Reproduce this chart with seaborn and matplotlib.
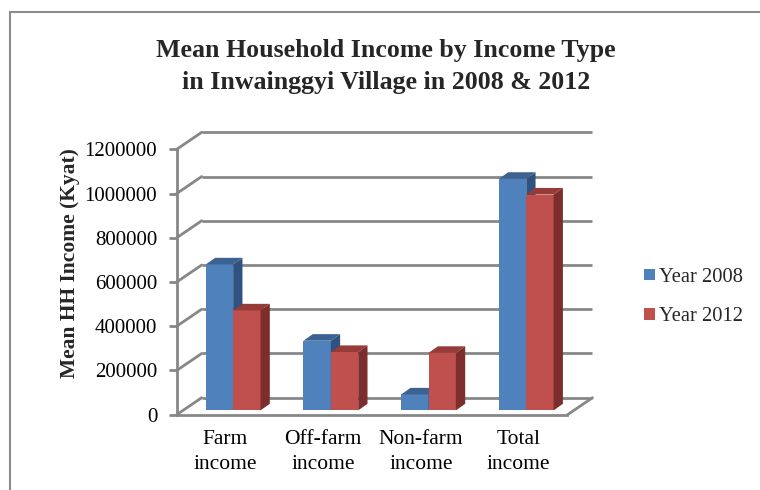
import matplotlib
matplotlib.use("Agg")
import matplotlib.pyplot as plt
from matplotlib.patches import Polygon, Rectangle
from matplotlib.lines import Line2D
import seaborn as sns
import pandas as pd

# ---- data -------------------------------------------------------------
categories = ["Farm\nincome", "Off-farm\nincome", "Non-farm\nincome", "Total\nincome"]
series_names = ["Year 2008", "Year 2012"]
income_2008 = [660000, 315000, 72000, 1047000]
income_2012 = [452000, 264000, 260000, 976000]
y_ticks = [0, 200000, 400000, 600000, 800000, 1000000, 1200000]

# ---- style --------------------------------------------------------------
sns.set_theme(style="white")
plt.rcParams["font.family"] = ["Liberation Serif", "DejaVu Serif"]

front_colors = ["#4F81BD", "#C0504D"]
top_colors = ["#3B6290", "#973B39"]
side_colors = ["#30527F", "#7C2E2C"]
grid_color = "#878787"

df = pd.DataFrame({
    "category": categories * 2,
    "series": [series_names[0]] * 4 + [series_names[1]] * 4,
    "income": income_2008 + income_2012,
})

W, H, DPI = 760, 490, 100
fig = plt.figure(figsize=(W / DPI, H / DPI), dpi=DPI)
fig.patch.set_facecolor("white")

# front plane of the 3-D box (pixel geometry)
ax_left, ax_right, ax_bottom, ax_top = 176.7, 567.5, 414.7, 149.3
ax = fig.add_axes([ax_left / W, 1 - ax_bottom / H,
                   (ax_right - ax_left) / W, (ax_bottom - ax_top) / H])
ax.patch.set_alpha(0)

sns.barplot(data=df, x="category", y="income", hue="series",
            hue_order=series_names, order=categories,
            palette=front_colors, saturation=1, width=0.56,
            errorbar=None, ax=ax, zorder=3, linewidth=0)
ax.get_legend().remove()

ymax = 1200000
ax.set_xlim(-0.5, 3.5)
ax.set_ylim(0, ymax)

# pixel -> data unit helpers
px_x = 4.0 / (ax_right - ax_left)
px_y = ymax / (ax_bottom - ax_top)

# depth of the back wall and placement/depth of the columns
wall_dx, wall_dy = 25 * px_x, 17 * px_y
bar_dx, bar_dy = 7.6 * px_x, 4.3 * px_y
col_dx, col_dy = 9.3 * px_x, 6.6 * px_y

# back wall gridlines and left-wall diagonals
for v in y_ticks:
    ax.add_line(Line2D([-0.5 + wall_dx, 3.5 + wall_dx], [v + wall_dy, v + wall_dy],
                       color=grid_color, lw=2, zorder=1, clip_on=False,
                       solid_capstyle="butt"))
    ax.add_line(Line2D([-0.5, -0.5 + wall_dx], [v, v + wall_dy],
                       color=grid_color, lw=2, zorder=1, clip_on=False))
# floor right edge
ax.add_line(Line2D([3.5, 3.5 + wall_dx], [0, wall_dy],
                   color=grid_color, lw=2, zorder=1, clip_on=False))

# columns: shift into depth and add top / side faces
for s, container in enumerate(ax.containers):
    for bar in container:
        x0 = bar.get_x() + bar_dx
        w = bar.get_width()
        h = bar.get_height()
        bar.set_x(x0)
        bar.set_y(bar_dy)
        bar.set_zorder(3 + s)
        y0, y1 = bar_dy, bar_dy + h
        top = Polygon([(x0, y1), (x0 + w, y1), (x0 + w + col_dx, y1 + col_dy),
                       (x0 + col_dx, y1 + col_dy)], closed=True,
                      facecolor=top_colors[s], edgecolor="none",
                      zorder=3 + s, clip_on=False)
        side = Polygon([(x0 + w, y0), (x0 + w + col_dx, y0 + col_dy),
                        (x0 + w + col_dx, y1 + col_dy), (x0 + w, y1)], closed=True,
                       facecolor=side_colors[s], edgecolor="none",
                       zorder=3 + s, clip_on=False)
        ax.add_patch(top)
        ax.add_patch(side)

# axes lines and ticks
for name in ["top", "right"]:
    ax.spines[name].set_visible(False)
for name in ["left", "bottom"]:
    ax.spines[name].set_color(grid_color)
    ax.spines[name].set_linewidth(2)
    ax.spines[name].set_zorder(2)

ax.set_yticks(y_ticks)
ax.set_yticklabels([str(v) for v in y_ticks])
ax.tick_params(axis="y", length=6, width=2, color=grid_color, pad=8,
               labelsize=15, labelcolor="black", left=True)
ax.tick_params(axis="x", length=0, pad=11, labelsize=15.5, labelcolor="black")
for lbl in ax.get_xticklabels():
    lbl.set_linespacing(1.4)
ax.set_xlabel("")
ax.set_ylabel("")

# titles
fig.text(386 / W, 1 - 57 / H, "Mean Household Income by Income Type",
         ha="center", va="baseline", fontsize=18.6, fontweight="bold")
fig.text(386 / W, 1 - 89 / H, "in Inwainggyi Village in 2008 & 2012",
         ha="center", va="baseline", fontsize=18.6, fontweight="bold")
fig.text(70 / W, 1 - 263 / H, "Mean HH Income (Kyat)", rotation=90,
         ha="center", va="center", fontsize=15.5, fontweight="bold")

# legend
handles = [Rectangle((0, 0), 1, 1, facecolor=c, edgecolor="none") for c in front_colors]
fig.legend(handles, series_names, loc="center left",
           bbox_to_anchor=(636 / W, 1 - 297 / H), frameon=False,
           fontsize=14.8, handlelength=0.5, handleheight=0.5,
           handletextpad=0.2, labelspacing=1.0, borderaxespad=0)

# chart border
fig.add_artist(Rectangle((9.5 / W, -0.1), 1.2, 1.1 - 12 / H,
                         transform=fig.transFigure, fill=False,
                         edgecolor="#8C8C8C", linewidth=1.5))

fig.savefig("out.png", dpi=DPI)
